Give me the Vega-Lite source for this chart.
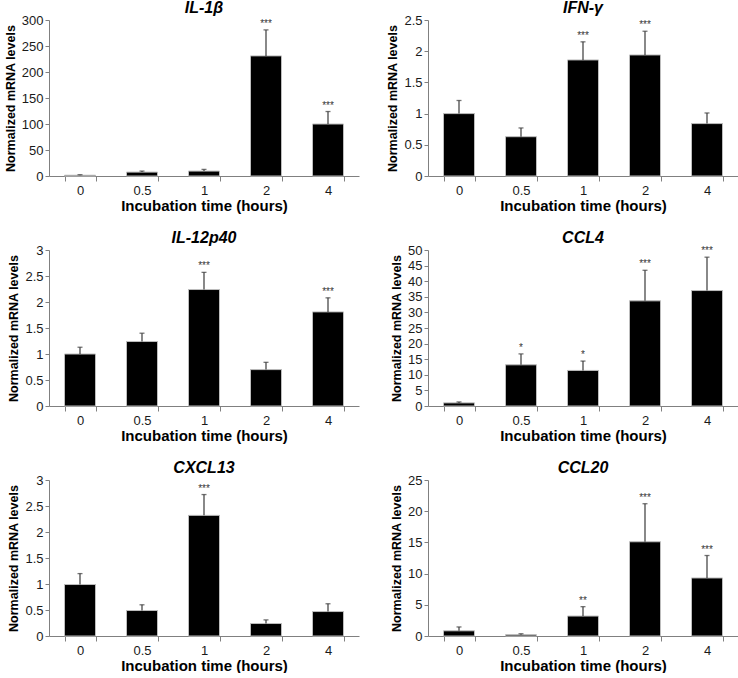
{
  "$schema": "https://vega.github.io/schema/vega-lite/v6.json",
  "background": "white",
  "padding": {"left": 4, "top": 0, "right": 0, "bottom": 0},
  "datasets": {
    "genes": [
      {"gene": "IL-1β", "time": "0", "mean": 1.5, "err": 2.5, "sig": ""},
      {"gene": "IL-1β", "time": "0.5", "mean": 7.5, "err": 9.5, "sig": ""},
      {"gene": "IL-1β", "time": "1", "mean": 9.5, "err": 12.7, "sig": ""},
      {"gene": "IL-1β", "time": "2", "mean": 231, "err": 281, "sig": "***"},
      {"gene": "IL-1β", "time": "4", "mean": 100, "err": 124, "sig": "***"},
      {"gene": "IFN-γ", "time": "0", "mean": 1.0, "err": 1.21, "sig": ""},
      {"gene": "IFN-γ", "time": "0.5", "mean": 0.63, "err": 0.77, "sig": ""},
      {"gene": "IFN-γ", "time": "1", "mean": 1.86, "err": 2.15, "sig": "***"},
      {"gene": "IFN-γ", "time": "2", "mean": 1.94, "err": 2.32, "sig": "***"},
      {"gene": "IFN-γ", "time": "4", "mean": 0.84, "err": 1.01, "sig": ""},
      {"gene": "IL-12p40", "time": "0", "mean": 1.0, "err": 1.13, "sig": ""},
      {"gene": "IL-12p40", "time": "0.5", "mean": 1.24, "err": 1.4, "sig": ""},
      {"gene": "IL-12p40", "time": "1", "mean": 2.24, "err": 2.57, "sig": "***"},
      {"gene": "IL-12p40", "time": "2", "mean": 0.7, "err": 0.84, "sig": ""},
      {"gene": "IL-12p40", "time": "4", "mean": 1.81, "err": 2.08, "sig": "***"},
      {"gene": "CCL4", "time": "0", "mean": 1.0, "err": 1.3, "sig": ""},
      {"gene": "CCL4", "time": "0.5", "mean": 13.2, "err": 16.7, "sig": "*"},
      {"gene": "CCL4", "time": "1", "mean": 11.4, "err": 14.4, "sig": "*"},
      {"gene": "CCL4", "time": "2", "mean": 33.7, "err": 43.5, "sig": "***"},
      {"gene": "CCL4", "time": "4", "mean": 37.0, "err": 47.7, "sig": "***"},
      {"gene": "CXCL13", "time": "0", "mean": 0.99, "err": 1.2, "sig": ""},
      {"gene": "CXCL13", "time": "0.5", "mean": 0.49, "err": 0.6, "sig": ""},
      {"gene": "CXCL13", "time": "1", "mean": 2.32, "err": 2.72, "sig": "***"},
      {"gene": "CXCL13", "time": "2", "mean": 0.24, "err": 0.31, "sig": ""},
      {"gene": "CXCL13", "time": "4", "mean": 0.47, "err": 0.62, "sig": ""},
      {"gene": "CCL20", "time": "0", "mean": 0.83, "err": 1.45, "sig": ""},
      {"gene": "CCL20", "time": "0.5", "mean": 0.2, "err": 0.36, "sig": ""},
      {"gene": "CCL20", "time": "1", "mean": 3.2, "err": 4.7, "sig": "**"},
      {"gene": "CCL20", "time": "2", "mean": 15.1, "err": 21.2, "sig": "***"},
      {"gene": "CCL20", "time": "4", "mean": 9.3, "err": 12.9, "sig": "***"}
    ]
  },
  "data": {"name": "genes"},
  "columns": 2,
  "spacing": {"column": 27, "row": 17},
  "concat": [
    {
      "title": "IL-1β",
      "width": 310, "height": 156,
      "transform": [{"filter": "datum.gene === 'IL-1β'"}],
      "encoding": {"x": {"field": "time", "type": "nominal", "sort": ["0", "0.5", "1", "2", "4"], "title": "Incubation time (hours)", "scale": {"paddingInner": 0.5, "paddingOuter": 0.25}}},
      "layer": [
        {"mark": {"type": "bar", "color": "black", "stroke": "#bdbdbd", "strokeWidth": 1}, "encoding": {"y": {"field": "mean", "type": "quantitative", "title": "Normalized mRNA levels", "scale": {"domain": [0, 300]}, "axis": {"values": [0, 50, 100, 150, 200, 250, 300], "format": "~r"}}}},
        {"mark": {"type": "rule", "color": "#3a3a3a", "strokeWidth": 1.2}, "encoding": {"y": {"field": "mean", "type": "quantitative", "title": "Normalized mRNA levels", "scale": {"domain": [0, 300]}, "axis": {"values": [0, 50, 100, 150, 200, 250, 300], "format": "~r"}}, "y2": {"field": "err"}}},
        {"mark": {"type": "tick", "color": "#3a3a3a", "size": 5, "thickness": 1.3}, "encoding": {"y": {"field": "err", "type": "quantitative", "title": "Normalized mRNA levels", "scale": {"domain": [0, 300]}, "axis": {"values": [0, 50, 100, 150, 200, 250, 300], "format": "~r"}}}},
        {"mark": {"type": "text", "fontSize": 10, "color": "#333", "baseline": "middle", "dy": -6}, "encoding": {"y": {"field": "err", "type": "quantitative", "title": "Normalized mRNA levels", "scale": {"domain": [0, 300]}, "axis": {"values": [0, 50, 100, 150, 200, 250, 300], "format": "~r"}}, "text": {"field": "sig"}}}
      ]
    },
    {
      "title": "IFN-γ",
      "width": 310, "height": 156,
      "transform": [{"filter": "datum.gene === 'IFN-γ'"}],
      "encoding": {"x": {"field": "time", "type": "nominal", "sort": ["0", "0.5", "1", "2", "4"], "title": "Incubation time (hours)", "scale": {"paddingInner": 0.5, "paddingOuter": 0.25}}},
      "layer": [
        {"mark": {"type": "bar", "color": "black", "stroke": "#bdbdbd", "strokeWidth": 1}, "encoding": {"y": {"field": "mean", "type": "quantitative", "title": "Normalized mRNA levels", "scale": {"domain": [0, 2.5]}, "axis": {"values": [0, 0.5, 1, 1.5, 2, 2.5], "format": "~r"}}}},
        {"mark": {"type": "rule", "color": "#3a3a3a", "strokeWidth": 1.2}, "encoding": {"y": {"field": "mean", "type": "quantitative", "title": "Normalized mRNA levels", "scale": {"domain": [0, 2.5]}, "axis": {"values": [0, 0.5, 1, 1.5, 2, 2.5], "format": "~r"}}, "y2": {"field": "err"}}},
        {"mark": {"type": "tick", "color": "#3a3a3a", "size": 5, "thickness": 1.3}, "encoding": {"y": {"field": "err", "type": "quantitative", "title": "Normalized mRNA levels", "scale": {"domain": [0, 2.5]}, "axis": {"values": [0, 0.5, 1, 1.5, 2, 2.5], "format": "~r"}}}},
        {"mark": {"type": "text", "fontSize": 10, "color": "#333", "baseline": "middle", "dy": -6}, "encoding": {"y": {"field": "err", "type": "quantitative", "title": "Normalized mRNA levels", "scale": {"domain": [0, 2.5]}, "axis": {"values": [0, 0.5, 1, 1.5, 2, 2.5], "format": "~r"}}, "text": {"field": "sig"}}}
      ]
    },
    {
      "title": "IL-12p40",
      "width": 310, "height": 156,
      "transform": [{"filter": "datum.gene === 'IL-12p40'"}],
      "encoding": {"x": {"field": "time", "type": "nominal", "sort": ["0", "0.5", "1", "2", "4"], "title": "Incubation time (hours)", "scale": {"paddingInner": 0.5, "paddingOuter": 0.25}}},
      "layer": [
        {"mark": {"type": "bar", "color": "black", "stroke": "#bdbdbd", "strokeWidth": 1}, "encoding": {"y": {"field": "mean", "type": "quantitative", "title": "Normalized mRNA levels", "scale": {"domain": [0, 3]}, "axis": {"values": [0, 0.5, 1, 1.5, 2, 2.5, 3], "format": "~r"}}}},
        {"mark": {"type": "rule", "color": "#3a3a3a", "strokeWidth": 1.2}, "encoding": {"y": {"field": "mean", "type": "quantitative", "title": "Normalized mRNA levels", "scale": {"domain": [0, 3]}, "axis": {"values": [0, 0.5, 1, 1.5, 2, 2.5, 3], "format": "~r"}}, "y2": {"field": "err"}}},
        {"mark": {"type": "tick", "color": "#3a3a3a", "size": 5, "thickness": 1.3}, "encoding": {"y": {"field": "err", "type": "quantitative", "title": "Normalized mRNA levels", "scale": {"domain": [0, 3]}, "axis": {"values": [0, 0.5, 1, 1.5, 2, 2.5, 3], "format": "~r"}}}},
        {"mark": {"type": "text", "fontSize": 10, "color": "#333", "baseline": "middle", "dy": -6}, "encoding": {"y": {"field": "err", "type": "quantitative", "title": "Normalized mRNA levels", "scale": {"domain": [0, 3]}, "axis": {"values": [0, 0.5, 1, 1.5, 2, 2.5, 3], "format": "~r"}}, "text": {"field": "sig"}}}
      ]
    },
    {
      "title": "CCL4",
      "width": 310, "height": 156,
      "transform": [{"filter": "datum.gene === 'CCL4'"}],
      "encoding": {"x": {"field": "time", "type": "nominal", "sort": ["0", "0.5", "1", "2", "4"], "title": "Incubation time (hours)", "scale": {"paddingInner": 0.5, "paddingOuter": 0.25}}},
      "layer": [
        {"mark": {"type": "bar", "color": "black", "stroke": "#bdbdbd", "strokeWidth": 1}, "encoding": {"y": {"field": "mean", "type": "quantitative", "title": "Normalized mRNA levels", "scale": {"domain": [0, 50]}, "axis": {"values": [0, 5, 10, 15, 20, 25, 30, 35, 40, 45, 50], "format": "~r"}}}},
        {"mark": {"type": "rule", "color": "#3a3a3a", "strokeWidth": 1.2}, "encoding": {"y": {"field": "mean", "type": "quantitative", "title": "Normalized mRNA levels", "scale": {"domain": [0, 50]}, "axis": {"values": [0, 5, 10, 15, 20, 25, 30, 35, 40, 45, 50], "format": "~r"}}, "y2": {"field": "err"}}},
        {"mark": {"type": "tick", "color": "#3a3a3a", "size": 5, "thickness": 1.3}, "encoding": {"y": {"field": "err", "type": "quantitative", "title": "Normalized mRNA levels", "scale": {"domain": [0, 50]}, "axis": {"values": [0, 5, 10, 15, 20, 25, 30, 35, 40, 45, 50], "format": "~r"}}}},
        {"mark": {"type": "text", "fontSize": 10, "color": "#333", "baseline": "middle", "dy": -6}, "encoding": {"y": {"field": "err", "type": "quantitative", "title": "Normalized mRNA levels", "scale": {"domain": [0, 50]}, "axis": {"values": [0, 5, 10, 15, 20, 25, 30, 35, 40, 45, 50], "format": "~r"}}, "text": {"field": "sig"}}}
      ]
    },
    {
      "title": "CXCL13",
      "width": 310, "height": 156,
      "transform": [{"filter": "datum.gene === 'CXCL13'"}],
      "encoding": {"x": {"field": "time", "type": "nominal", "sort": ["0", "0.5", "1", "2", "4"], "title": "Incubation time (hours)", "scale": {"paddingInner": 0.5, "paddingOuter": 0.25}}},
      "layer": [
        {"mark": {"type": "bar", "color": "black", "stroke": "#bdbdbd", "strokeWidth": 1}, "encoding": {"y": {"field": "mean", "type": "quantitative", "title": "Normalized mRNA levels", "scale": {"domain": [0, 3]}, "axis": {"values": [0, 0.5, 1, 1.5, 2, 2.5, 3], "format": "~r"}}}},
        {"mark": {"type": "rule", "color": "#3a3a3a", "strokeWidth": 1.2}, "encoding": {"y": {"field": "mean", "type": "quantitative", "title": "Normalized mRNA levels", "scale": {"domain": [0, 3]}, "axis": {"values": [0, 0.5, 1, 1.5, 2, 2.5, 3], "format": "~r"}}, "y2": {"field": "err"}}},
        {"mark": {"type": "tick", "color": "#3a3a3a", "size": 5, "thickness": 1.3}, "encoding": {"y": {"field": "err", "type": "quantitative", "title": "Normalized mRNA levels", "scale": {"domain": [0, 3]}, "axis": {"values": [0, 0.5, 1, 1.5, 2, 2.5, 3], "format": "~r"}}}},
        {"mark": {"type": "text", "fontSize": 10, "color": "#333", "baseline": "middle", "dy": -6}, "encoding": {"y": {"field": "err", "type": "quantitative", "title": "Normalized mRNA levels", "scale": {"domain": [0, 3]}, "axis": {"values": [0, 0.5, 1, 1.5, 2, 2.5, 3], "format": "~r"}}, "text": {"field": "sig"}}}
      ]
    },
    {
      "title": "CCL20",
      "width": 310, "height": 156,
      "transform": [{"filter": "datum.gene === 'CCL20'"}],
      "encoding": {"x": {"field": "time", "type": "nominal", "sort": ["0", "0.5", "1", "2", "4"], "title": "Incubation time (hours)", "scale": {"paddingInner": 0.5, "paddingOuter": 0.25}}},
      "layer": [
        {"mark": {"type": "bar", "color": "black", "stroke": "#bdbdbd", "strokeWidth": 1}, "encoding": {"y": {"field": "mean", "type": "quantitative", "title": "Normalized mRNA levels", "scale": {"domain": [0, 25]}, "axis": {"values": [0, 5, 10, 15, 20, 25], "format": "~r"}}}},
        {"mark": {"type": "rule", "color": "#3a3a3a", "strokeWidth": 1.2}, "encoding": {"y": {"field": "mean", "type": "quantitative", "title": "Normalized mRNA levels", "scale": {"domain": [0, 25]}, "axis": {"values": [0, 5, 10, 15, 20, 25], "format": "~r"}}, "y2": {"field": "err"}}},
        {"mark": {"type": "tick", "color": "#3a3a3a", "size": 5, "thickness": 1.3}, "encoding": {"y": {"field": "err", "type": "quantitative", "title": "Normalized mRNA levels", "scale": {"domain": [0, 25]}, "axis": {"values": [0, 5, 10, 15, 20, 25], "format": "~r"}}}},
        {"mark": {"type": "text", "fontSize": 10, "color": "#333", "baseline": "middle", "dy": -6}, "encoding": {"y": {"field": "err", "type": "quantitative", "title": "Normalized mRNA levels", "scale": {"domain": [0, 25]}, "axis": {"values": [0, 5, 10, 15, 20, 25], "format": "~r"}}, "text": {"field": "sig"}}}
      ]
    }
  ],
  "config": {
    "font": "Liberation Sans",
    "view": {"stroke": null},
    "title": {"fontSize": 16, "fontWeight": "bold", "fontStyle": "italic", "color": "black", "offset": -2, "anchor": "middle"},
    "axis": {"grid": false, "domainColor": "#808080", "tickColor": "#808080", "labelColor": "#1a1a1a", "titleColor": "black", "labelFontSize": 13, "labelFont": "Liberation Sans", "titleFont": "Liberation Sans", "titleFontWeight": "bold", "labelOverlap": false},
    "axisX": {"labelAngle": 0, "tickBand": "extent", "tickSize": 5, "labelPadding": 3, "titleFontSize": 15, "titlePadding": 1},
    "axisY": {"tickSize": 4, "labelPadding": 2, "titleFontSize": 12.5, "titlePadding": 4}
  }
}
